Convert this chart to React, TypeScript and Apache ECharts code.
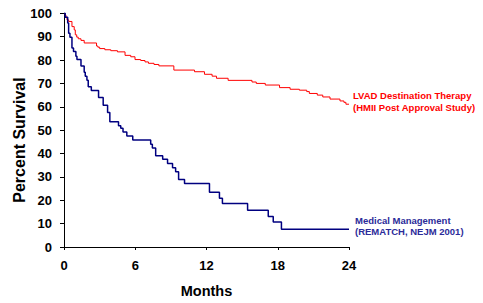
import React, { useEffect, useRef } from "react";
import * as echarts from "echarts";

const xTicks = [0, 6, 12, 18, 24];
const yTicks = [0, 10, 20, 30, 40, 50, 60, 70, 80, 90, 100];

const lvadMonths = [0, 0.1, 0.17, 0.25, 0.39, 0.67, 0.86, 0.95, 1.07, 1.2, 1.43, 1.7, 2.74, 2.85, 3.0, 3.44, 3.94, 4.5, 5.14, 5.62, 5.98, 6.46, 6.82, 7.11, 7.58, 7.99, 9.25, 10.99, 11.83, 12.47, 12.84, 13.82, 15.83, 16.19, 16.95, 18.15, 19.04, 19.82, 20.44, 20.66, 21.33, 21.79, 22.4, 23.24, 23.57, 23.74, 24];
const lvadSurvival = [100, 99.2, 98.3, 97.2, 96.5, 94.3, 92.9, 90.8, 89.8, 89.1, 88.4, 87.3, 86, 85.5, 84.9, 84.4, 84, 83.5, 82, 81.4, 80.2, 79.8, 79.2, 78.6, 78.1, 77.5, 75.7, 75, 73.9, 73.1, 72.2, 71.3, 70.6, 70, 69.3, 68.2, 67.5, 67.1, 66.5, 65.7, 65, 64.2, 63.3, 62.5, 61.9, 61.1, 61.1];

const medMonths = [0, 0.1, 0.31, 0.39, 0.5, 0.67, 0.8, 1.0, 1.09, 1.43, 1.7, 1.79, 1.93, 2.04, 2.3, 2.91, 3.3, 3.67, 3.86, 4.59, 4.78, 4.97, 5.29, 5.79, 7.3, 7.44, 7.72, 8.31, 8.72, 9.14, 9.4, 9.65, 10.15, 12.25, 13.09, 13.34, 15.46, 17.2, 17.62, 18.31, 24];
const medSurvival = [100, 98.3, 95.8, 91.5, 89.8, 85.2, 83.7, 81.6, 80.2, 77.4, 74.8, 73.1, 71.3, 68.6, 67, 64, 60.7, 57.6, 53.6, 51.9, 50.8, 49.2, 47.5, 45.8, 44, 42.4, 39, 37.5, 35.7, 33.9, 32.2, 28.9, 27.2, 23.4, 20.9, 18.6, 15.7, 13.1, 10.7, 7.6, 7.6];

const lvadLabel = ["LVAD Destination Therapy", "(HMII Post Approval Study)"];
const medLabel = ["Medical Management", "(REMATCH, NEJM 2001)"];

const FONT = "Arial, 'Liberation Sans', sans-serif";

export default function App() {
  const ref = useRef<HTMLDivElement>(null);
  useEffect(() => {
    if (!ref.current) return;
    const chart = echarts.init(ref.current, undefined, { renderer: "svg" });
    chart.setOption({
      animation: false,
      backgroundColor: "#ffffff",
      grid: { left: 64, right: 134, top: 13.3, bottom: 52.7, containLabel: false },
      xAxis: {
        type: "value",
        min: xTicks[0],
        max: xTicks[xTicks.length - 1],
        interval: 6,
        name: "Months",
        nameLocation: "middle",
        nameGap: 36,
        nameTextStyle: { fontFamily: FONT, fontWeight: "bold", fontSize: 14.5, color: "#000" },
        axisLine: { lineStyle: { color: "#000", width: 1 } },
        axisTick: { show: true, length: 3, lineStyle: { color: "#000" } },
        axisLabel: { fontFamily: FONT, fontWeight: "bold", fontSize: 13, color: "#000", margin: 12 },
        splitLine: { show: false },
      },
      yAxis: {
        type: "value",
        min: yTicks[0],
        max: yTicks[yTicks.length - 1],
        interval: 10,
        axisLine: { show: true, lineStyle: { color: "#000", width: 1 } },
        axisTick: { show: true, length: 4, lineStyle: { color: "#000" } },
        axisLabel: { fontFamily: FONT, fontWeight: "bold", fontSize: 13, color: "#000", margin: 12 },
        splitLine: { show: false },
      },
      graphic: [
        {
          type: "text",
          x: 19,
          y: 140,
          rotation: Math.PI / 2,
          style: {
            text: "Percent Survival",
            fontFamily: FONT,
            fontWeight: "bold",
            fontSize: 16,
            fill: "#000",
            align: "center",
            verticalAlign: "middle",
          },
        },
      ],
      series: [
        {
          type: "line",
          step: "end",
          showSymbol: false,
          data: lvadMonths.map((m, i) => [m, lvadSurvival[i]]),
          lineStyle: { color: "#ff0000", width: 1 },
          itemStyle: { color: "#ff0000" },
          endLabel: {
            show: true,
            formatter: () => lvadLabel.join("\n"),
            color: "#ff0000",
            fontFamily: FONT,
            fontWeight: "bold",
            fontSize: 9.5,
            lineHeight: 11.7,
            align: "left",
            verticalAlign: "middle",
            distance: 4,
            offset: [0, -3],
          },
        },
        {
          type: "line",
          step: "end",
          showSymbol: false,
          data: medMonths.map((m, i) => [m, medSurvival[i]]),
          lineStyle: { color: "#000080", width: 1.5 },
          itemStyle: { color: "#000080" },
          endLabel: {
            show: true,
            formatter: () => medLabel.join("\n"),
            color: "#2b2b99",
            fontFamily: FONT,
            fontWeight: "bold",
            fontSize: 9.5,
            lineHeight: 10.5,
            align: "left",
            verticalAlign: "middle",
            distance: 6,
            offset: [0, -3],
          },
        },
      ],
    });
    return () => chart.dispose();
  }, []);
  return <div ref={ref} style={{ position: "fixed", left: 0, top: 0, width: 483, height: 303 }} />;
}
